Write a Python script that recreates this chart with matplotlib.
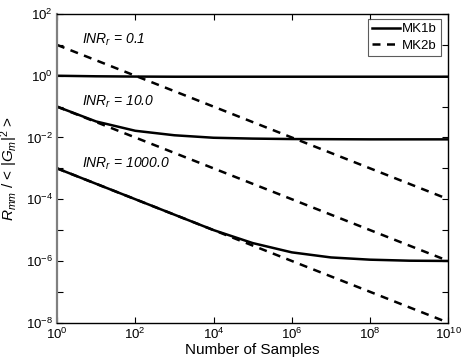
import matplotlib
matplotlib.use("Agg")
import matplotlib.pyplot as plt
from matplotlib.ticker import FixedLocator, NullLocator, FuncFormatter
import math

plt.rcParams['font.family'] = ['Liberation Sans', 'DejaVu Sans']
plt.rcParams['mathtext.fontset'] = 'custom'
plt.rcParams['mathtext.rm'] = 'Liberation Sans'
plt.rcParams['mathtext.it'] = 'Liberation Sans:italic'
plt.rcParams['mathtext.bf'] = 'Liberation Sans:bold'

samples = [1e0, 1e1, 1e2, 1e3, 1e4, 1e5, 1e6, 1e7, 1e8, 1e9, 1e10]

mk1b_inr01 = [1.0, 0.96, 0.94, 0.93, 0.93, 0.93, 0.93, 0.93, 0.93, 0.93, 0.93]
mk1b_inr10 = [0.1, 0.033, 0.0165, 0.0118, 0.0098, 0.0092, 0.0089, 0.0088, 0.0087, 0.0087, 0.0087]
mk1b_inr1000 = [1e-3, 3.16e-4, 1e-4, 3.16e-5, 1.0e-5, 3.8e-6, 1.9e-6, 1.3e-6, 1.1e-6, 1.02e-6, 1.0e-6]

mk2b_inr01 = [10, 3.16, 1, 0.316, 0.1, 0.0316, 0.01, 3.16e-3, 1e-3, 3.16e-4, 1e-4]
mk2b_inr10 = [0.1, 0.0316, 0.01, 3.16e-3, 1e-3, 3.16e-4, 1e-4, 3.16e-5, 1e-5, 3.16e-6, 1e-6]
mk2b_inr1000 = [1e-3, 3.16e-4, 1e-4, 3.16e-5, 1e-5, 3.16e-6, 1e-6, 3.16e-7, 1e-7, 3.16e-8, 1e-8]

inr_labels = [r'$INR_r$ = 0.1', r'$INR_r$ = 10.0', r'$INR_r$ = 1000.0']
inr_label_pos = [(4.4, 14.5), (4.4, 0.145), (4.4, 1.4e-3)]
legend_labels = ['MK1b', 'MK2b']

fig = plt.figure(figsize=(4.63, 3.61), dpi=100)
ax = fig.add_axes([0.1231, 0.1061, 0.8452, 0.8551])

lw = 1.8
l1, = ax.plot(samples, mk1b_inr01, color='black', lw=lw, ls='-')
ax.plot(samples, mk1b_inr10, color='black', lw=lw, ls='-')
ax.plot(samples, mk1b_inr1000, color='black', lw=lw, ls='-')
dash = (0, (3.2, 2.6))
l2, = ax.plot(samples, mk2b_inr01, color='black', lw=lw, ls=dash)
ax.plot(samples, mk2b_inr10, color='black', lw=lw, ls=dash)
ax.plot(samples, mk2b_inr1000, color='black', lw=lw, ls=dash)

ax.set_xscale('log')
ax.set_yscale('log')
ax.set_xlim(1e0, 1e10)
ax.set_ylim(1e-8, 1e2)

ax.xaxis.set_major_locator(FixedLocator([10.0**k for k in range(0, 11, 2)]))
ax.xaxis.set_minor_locator(NullLocator())
ax.yaxis.set_major_locator(FixedLocator([10.0**k for k in range(-8, 3)]))
ax.yaxis.set_minor_locator(NullLocator())

def xfmt(v, p):
    e = int(round(math.log10(v)))
    return r'$10^{%d}$' % e
def yfmt(v, p):
    e = int(round(math.log10(v)))
    if e % 2 != 0:
        return ''
    return r'$10^{%d}$' % e
ax.xaxis.set_major_formatter(FuncFormatter(xfmt))
ax.yaxis.set_major_formatter(FuncFormatter(yfmt))

ax.tick_params(which='both', direction='in', top=True, right=True, length=4,
               width=0.8, labelsize=9.5, pad=3)
for s in ax.spines.values():
    s.set_linewidth(1.0)
ax.spines['left'].set_color('#808080')
ax.spines['left'].set_linewidth(1.6)

for txt, (x, y) in zip(inr_labels, inr_label_pos):
    ax.text(x, y, txt, fontsize=10, style='italic', ha='left', va='center')

ax.set_xlabel('Number of Samples', fontsize=11, labelpad=1)
ax.set_ylabel(r'$R_{mm}$ / < |$G_m$|$^2$ >', fontsize=11, labelpad=4)

leg = ax.legend([l1, l2], legend_labels, loc='upper right',
                bbox_to_anchor=(0.981, 0.984), fontsize=9.5,
                frameon=True, fancybox=False, edgecolor='#333333',
                handlelength=2.1, handletextpad=0.2, borderpad=0.3,
                labelspacing=0.35, borderaxespad=0.0)
leg.get_frame().set_linewidth(0.8)

fig.savefig('out.png', dpi=100)
